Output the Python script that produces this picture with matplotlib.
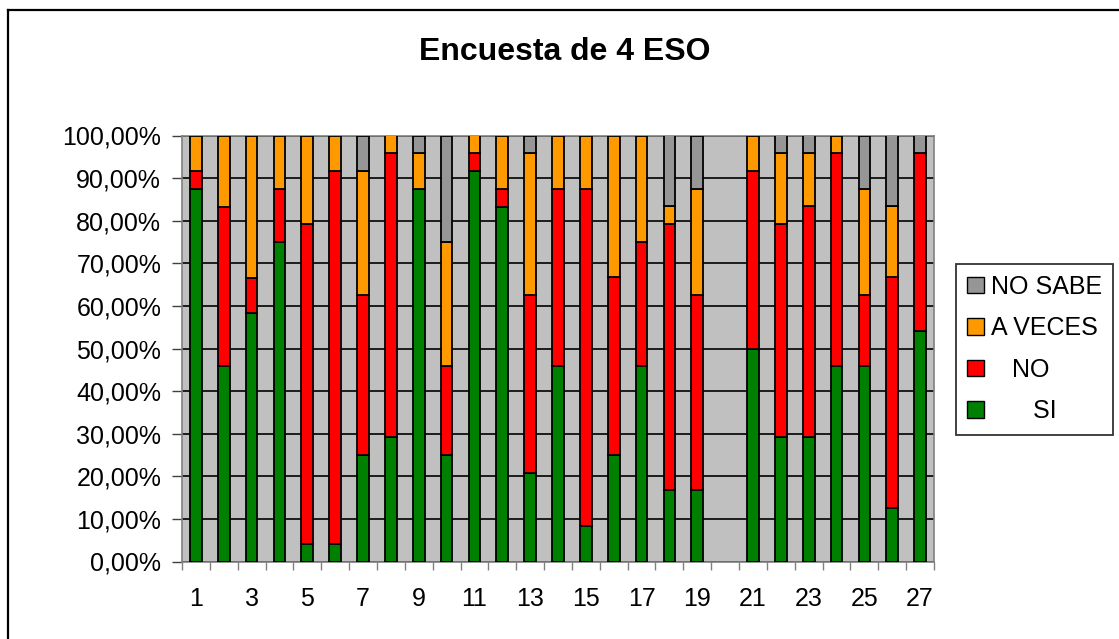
import matplotlib
matplotlib.use("Agg")
import matplotlib.pyplot as plt
from matplotlib.lines import Line2D
from matplotlib.patches import Patch
from matplotlib.ticker import FixedLocator, FuncFormatter

plt.rcParams['font.family'] = ['Liberation Sans', 'DejaVu Sans']

categories = list(range(1, 28))
# percentages (category 20 has no data)
si      = [87.50, 45.83, 58.33, 75.00, 4.17, 4.17, 25.00, 29.17, 87.50, 25.00,
           91.67, 83.33, 20.83, 45.83, 8.33, 25.00, 45.83, 16.67, 16.67, 0.00,
           50.00, 29.17, 29.17, 45.83, 45.83, 12.50, 54.17]
no      = [4.17, 37.50, 8.33, 12.50, 75.00, 87.50, 37.50, 66.67, 0.00, 20.83,
           4.17, 4.17, 41.67, 41.67, 79.17, 41.67, 29.17, 62.50, 45.83, 0.00,
           41.67, 50.00, 54.17, 50.00, 16.67, 54.17, 41.67]
a_veces = [8.33, 16.67, 33.33, 12.50, 20.83, 8.33, 29.17, 4.17, 8.33, 29.17,
           4.17, 12.50, 33.33, 12.50, 12.50, 33.33, 25.00, 4.17, 25.00, 0.00,
           8.33, 16.67, 12.50, 4.17, 25.00, 16.67, 0.00]
no_sabe = [0.00, 0.00, 0.00, 0.00, 0.00, 0.00, 8.33, 0.00, 4.17, 25.00,
           0.00, 0.00, 4.17, 0.00, 0.00, 0.00, 0.00, 16.67, 12.50, 0.00,
           0.00, 4.17, 4.17, 0.00, 12.50, 16.67, 4.17]
series_names = ['SI', 'NO', 'A VECES', 'NO SABE']
colors = ['#008000', '#FF0000', '#FF9900', '#969696']
title = 'Encuesta de 4 ESO'

W, H = 1119, 639
fig = plt.figure(figsize=(W / 100, H / 100), dpi=100)
fig.patch.set_facecolor('white')

# outer frame (only top and left visible)
fig.add_artist(Line2D([8 / W, 8 / W], [0, 1 - 9.5 / H], transform=fig.transFigure,
                      color='black', lw=1.6))
fig.add_artist(Line2D([8 / W, 1], [1 - 9.5 / H, 1 - 9.5 / H], transform=fig.transFigure,
                      color='black', lw=1.6))

x0, x1, y0, y1 = 182, 934, 135.5, 561.5
ax = fig.add_axes([x0 / W, 1 - y1 / H, (x1 - x0) / W, (y1 - y0) / H])
ax.set_facecolor('#C0C0C0')

bottom = [0.0] * len(categories)
for vals, name, col in zip([si, no, a_veces, no_sabe], series_names, colors):
    xs, hs, bs = [], [], []
    for c, v, b in zip(categories, vals, bottom):
        if v > 0:
            xs.append(c); hs.append(v); bs.append(b)
    ax.bar(xs, hs, bottom=bs, width=0.42, color=col, edgecolor='black',
           linewidth=1.3, zorder=3)
    bottom = [b + v for b, v in zip(bottom, vals)]

ax.set_xlim(0.5, 27.5)
ax.set_ylim(0, 100)

ax.yaxis.set_major_locator(FixedLocator([i * 10 for i in range(11)]))
ax.yaxis.set_major_formatter(FuncFormatter(lambda v, p: f"{v:.2f}%".replace('.', ',')))
ax.grid(axis='y', color='black', lw=1.2, zorder=1)
ax.set_axisbelow(True)

ax.set_xticks(categories[::2])
ax.set_xticklabels([str(c) for c in categories[::2]])
ax.set_xticks([c + 0.5 for c in [0] + categories], minor=True)
ax.tick_params(axis='x', which='major', length=0, pad=18, labelsize=18)
ax.tick_params(axis='x', which='minor', length=6, width=1, color='#808080', direction='out')
ax.tick_params(axis='y', which='major', length=7, width=1, color='#404040',
               direction='out', labelsize=18, pad=8)

for s in ax.spines.values():
    s.set_color('#808080')
    s.set_linewidth(1.2)

fig.text(565 / W, 1 - 52 / H, title, ha='center', va='center', fontsize=23,
         fontweight='bold')

handles = [Patch(facecolor=c, edgecolor='black', linewidth=1.0) for c in colors]
labels = ['      ' + series_names[0], '   ' + series_names[1], series_names[2], series_names[3]]
leg = fig.legend(handles[::-1], labels[::-1], loc='center',
                 bbox_to_anchor=(1034.5 / W, 1 - 349 / H),
                 frameon=True, fancybox=False, edgecolor='black', fontsize=18,
                 handlelength=0.65, handleheight=0.65, handletextpad=0.28,
                 labelspacing=0.7, borderpad=0.45, borderaxespad=0)
leg.get_frame().set_linewidth(1.3)

fig.savefig('out.png', dpi=100)
